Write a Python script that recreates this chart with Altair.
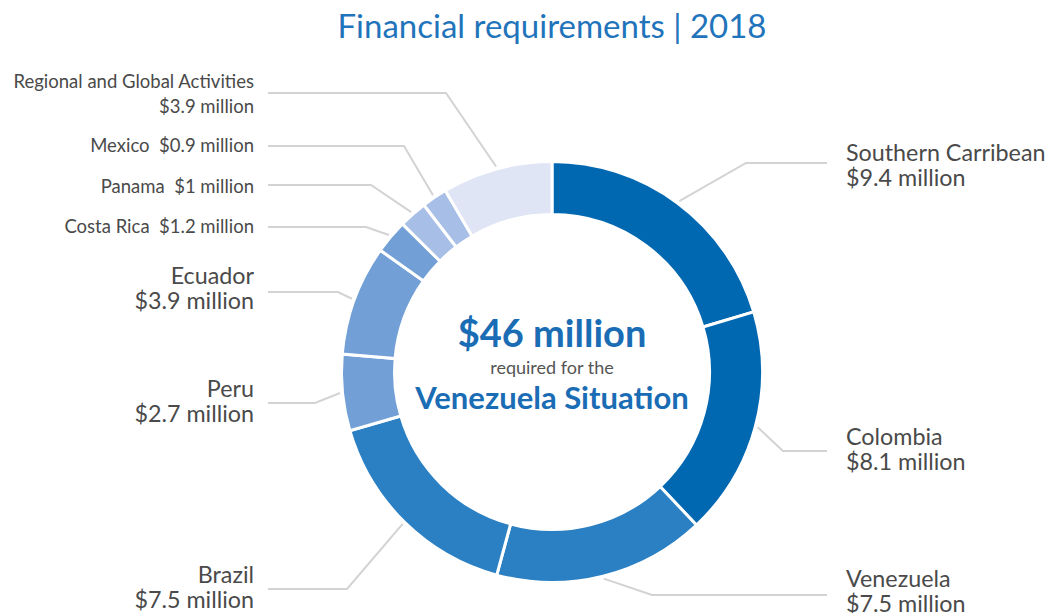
import math
import altair as alt
import pandas as pd

# ---------------- data ----------------
categories = ["Southern Carribean", "Colombia", "Venezuela", "Brazil", "Peru",
              "Ecuador", "Costa Rica", "Panama", "Mexico",
              "Regional and Global Activities"]
values = [9.4, 8.1, 7.5, 7.5, 2.7, 3.9, 1.2, 1.0, 0.9, 3.9]
colors = ["#0067b1", "#0067b1", "#2b80c3", "#2b80c3", "#72a0d6",
          "#72a0d6", "#72a0d6", "#a7bfe6", "#a7bfe6", "#dfe5f5"]
title_text = "Financial requirements | 2018"
center_sub = "required for the"
center_bottom = "Venezuela Situation"

# ---------------- layout ----------------
CX, CY = 552, 372
R_OUT, R_IN, R_LEAD = 210.5, 157.5, 213
label_side = ["R", "R", "R", "L", "L", "L", "L", "L", "L", "L"]
label_big = [True] * 6 + [False] * 4
label_two_line = [True] * 6 + [False, False, False, True]
label_y = [161, 445, 587, 583, 397, 284, 233, 193, 152, 88]
elbow_x = [746, 783, 652, 347, 315, 338, 366, 371, 404, 446]
elbow_y = [163, 451, 595, 589, 403, 292, 227, 185, 146, 93]
LEFT_TEXT_X, RIGHT_TEXT_X = 254, 846
LEFT_LINE_END, RIGHT_LINE_END = 268, 827
BIG_FS, SMALL_FS, LINE_H = 23.3, 18.5, 25
TEXT_COLOR = "#4a4a4a"
BLUE = "#1a6db4"
FONT = "Lato"


def money(v):
    return "$" + f"{v:g}" + " million"


total = sum(values)
starts, ends = [], []
acc = 0.0
for v in values:
    starts.append(acc)
    acc += v
    ends.append(acc)

arc_df = pd.DataFrame({"category": categories, "value": values,
                       "start": starts, "end": ends, "order": range(len(values))})

# leader lines: start on the ring at the slice's mid angle
line_rows = []
for i, cat in enumerate(categories):
    mid = (starts[i] + ends[i]) / 2 / total * 2 * math.pi
    sx = CX + R_LEAD * math.sin(mid)
    sy = CY - R_LEAD * math.cos(mid)
    ex = RIGHT_LINE_END if label_side[i] == "R" else LEFT_LINE_END
    line_rows += [
        {"category": cat, "seq": 0, "x": sx, "y": sy},
        {"category": cat, "seq": 1, "x": elbow_x[i], "y": elbow_y[i]},
        {"category": cat, "seq": 2, "x": ex, "y": elbow_y[i]},
    ]
line_df = pd.DataFrame(line_rows)

label_rows = []
for i, cat in enumerate(categories):
    txt = (cat + "\n" + money(values[i])) if label_two_line[i] else (cat + "\u00a0\u00a0" + money(values[i]))
    label_rows.append({
        "text": txt,
        "x": RIGHT_TEXT_X if label_side[i] == "R" else LEFT_TEXT_X,
        "y": label_y[i],
        "side": label_side[i],
        "fs": BIG_FS if label_big[i] else SMALL_FS,
    })
label_df = pd.DataFrame(label_rows)

center_df = pd.DataFrame({
    "text": [f"${round(total)} million", center_bottom],
    "x": [CX, CX], "y": [347, 409], "fs": [38, 31],
})
sub_df = pd.DataFrame({"text": [center_sub], "x": [CX], "y": [374], "fs": [18]})
title_df = pd.DataFrame({"text": [title_text], "x": [CX], "y": [38], "fs": [33]})

xs = alt.Scale(domain=[8, 1045], nice=False, zero=False)
ys = alt.Scale(domain=[8, 613], nice=False, zero=False, reverse=True)

arcs = alt.Chart(arc_df).mark_arc(
    innerRadius=R_IN, outerRadius=R_OUT, stroke="white", strokeWidth=3
).encode(
    theta=alt.Theta("start:Q", scale=alt.Scale(domain=[0, total], range=[0, 2 * math.pi]), stack=False),
    theta2="end:Q",
    color=alt.Color("category:N", scale=alt.Scale(domain=categories, range=colors), legend=None),
    x=alt.datum(CX, scale=xs, axis=None),
    y=alt.datum(CY, scale=ys, axis=None),
    order=alt.Order("order:Q"),
)

leaders = alt.Chart(line_df).mark_line(color="#d3d3d3", strokeWidth=2).encode(
    x=alt.X("x:Q", scale=xs, axis=None),
    y=alt.Y("y:Q", scale=ys, axis=None),
    detail="category:N",
    order="seq:Q",
)


def label_layer(side, align):
    return alt.Chart(label_df[label_df.side == side]).mark_text(
        align=align, baseline="alphabetic", font=FONT, color=TEXT_COLOR,
        lineBreak="\n", lineHeight=LINE_H
    ).encode(
        x=alt.X("x:Q", scale=xs, axis=None),
        y=alt.Y("y:Q", scale=ys, axis=None),
        text="text:N",
        size=alt.Size("fs:Q", scale=None, legend=None),
    )


right_labels = label_layer("R", "left")
left_labels = label_layer("L", "right")

center_bold = alt.Chart(center_df).mark_text(
    align="center", baseline="alphabetic", font=FONT, fontWeight="bold", color=BLUE
).encode(
    x=alt.X("x:Q", scale=xs, axis=None),
    y=alt.Y("y:Q", scale=ys, axis=None),
    text="text:N",
    size=alt.Size("fs:Q", scale=None, legend=None),
)

center_small = alt.Chart(sub_df).mark_text(
    align="center", baseline="alphabetic", font=FONT, color="#555555"
).encode(
    x=alt.X("x:Q", scale=xs, axis=None),
    y=alt.Y("y:Q", scale=ys, axis=None),
    text="text:N",
    size=alt.Size("fs:Q", scale=None, legend=None),
)

title = alt.Chart(title_df).mark_text(
    align="center", baseline="alphabetic", font=FONT, color="#1f74bb"
).encode(
    x=alt.X("x:Q", scale=xs, axis=None),
    y=alt.Y("y:Q", scale=ys, axis=None),
    text="text:N",
    size=alt.Size("fs:Q", scale=None, legend=None),
)

chart = alt.layer(
    leaders, arcs, right_labels, left_labels, center_bold, center_small, title
).properties(
    width=1037, height=605, padding=0,
    autosize=alt.AutoSizeParams(type="none"),
    background="white",
).configure_view(strokeWidth=0)

chart.save("out.html", embed_options={"renderer": "svg", "actions": False})
